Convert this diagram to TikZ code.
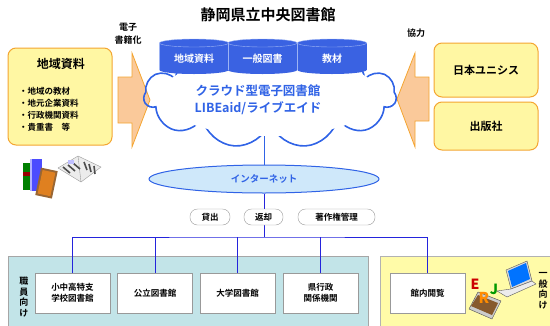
\documentclass[tikz,border=0pt]{standalone}
\usepackage{fontspec}
\setmainfont{Noto Sans CJK JP}[BoldFont={Noto Sans CJK JP Bold}]
\usetikzlibrary{shapes.symbols,shapes.geometric}

\definecolor{boxyellow}{HTML}{FFF7A3}
\definecolor{boxorange}{HTML}{F4A531}
\definecolor{arrowfill}{HTML}{FAC99A}
\definecolor{cloudblue}{HTML}{3063E6}
\definecolor{dbblue}{HTML}{3A62E2}
\definecolor{dbtop}{HTML}{9DB4F4}
\definecolor{netfill}{HTML}{CFE8FA}
\definecolor{linkblue}{HTML}{2424DC}
\definecolor{staffpanel}{HTML}{C2E4E8}
\definecolor{publicpanel}{HTML}{FFFBA8}

\tikzset{
  srcbox/.style={draw=boxorange,line width=1pt,fill=boxyellow,rounded corners=8pt},
  feedarrow/.style={draw=boxorange,line width=0.8pt,fill=arrowfill},
  orgbox/.style={draw=gray!80,fill=white,minimum width=75pt,minimum height=40pt,
    align=center,font=\bfseries\fontsize{8.5}{11}\selectfont},
  pill/.style={draw=gray!80,fill=white,rounded corners=7.5pt,minimum height=16pt,
    font=\bfseries\fontsize{8.5}{10}\selectfont},
  link/.style={draw=linkblue,line width=1pt},
  vtext/.style={align=center,font=\bfseries\fontsize{9}{10.5}\selectfont}
}

\begin{document}
\begin{tikzpicture}[x=1pt,y=-1pt,font=\bfseries]
\useasboundingbox (0,0) rectangle (550,325);
\clip (0,0) rectangle (550,325);

\node[font=\bfseries\fontsize{15}{15}\selectfont] (title) at (268,15) {静岡県立中央図書館};

% lower panels
\fill[staffpanel,draw=gray!70] (8,256) rectangle (368,335);
\fill[publicpanel,draw=gray!60] (380,256) rectangle (560,335);

% left source box
\node[srcbox,minimum width=104pt,minimum height=97pt] (local) at (60,96.5) {};
\node[font=\bfseries\fontsize{12}{12}\selectfont] (localhead) at (61,64) {地域資料};
\node[anchor=north west,align=left,inner sep=0pt,font=\bfseries\fontsize{8.5}{12}\selectfont]
  (locallist) at (19,87) {・地域の教材\\・地元企業資料\\・行政機関資料\\・貴重書　等};

% right partners
\node[srcbox,minimum width=104pt,minimum height=54pt,font=\bfseries\fontsize{11}{11}\selectfont]
  (unisys) at (486,70) {日本ユニシス};
\node[srcbox,minimum width=104pt,minimum height=48pt,font=\bfseries\fontsize{11}{11}\selectfont]
  (publisher) at (486,126) {出版社};

% arrows into the cloud
\draw[feedarrow] (118,77) -- (132,77) -- (132,53) -- (150,100) -- (132,147)
  -- (132,123) -- (118,123) -- cycle;
\draw[feedarrow] (429,77) -- (415,77) -- (415,53) -- (397,99) -- (415,147)
  -- (415,121) -- (429,121) -- cycle;
\node[align=center,font=\bfseries\fontsize{9}{13}\selectfont] (digitize) at (128,34) {電子\\書籍化};
\node[font=\bfseries\fontsize{9}{9}\selectfont] (coop) at (416,33) {協力};

% internet and the line up to the cloud
\node[ellipse,draw=cloudblue,line width=1pt,fill=netfill,minimum width=230pt,minimum height=28pt,
  text=cloudblue,font=\bfseries\fontsize{9.5}{9.5}\selectfont] (internet) at (264,179) {インターネット};
\node[cloud,cloud puffs=11,cloud ignores aspect,draw=cloudblue,line width=1.6pt,
  minimum width=252pt,minimum height=104pt] (cloud) at (270,96) {};
\draw[link,draw=cloudblue] (internet.north) -- (internet.north |- cloud.south);
\fill[white] (cloud.center) ellipse (110 and 40);

% database cylinders
\foreach \x/\name/\txt in {194/dbLocal/地域資料,262.5/dbBooks/一般図書,332/dbEdu/教材}{
  \fill[dbblue] (\x-34.5,43) rectangle (\x+34.5,70);
  \fill[dbblue] (\x,70) ellipse (34.5 and 4);
  \draw[dbtop,fill=dbblue] (\x,43) ellipse (34.5 and 4);
  \draw[dbtop] (\x-34.5,43) -- (\x-34.5,70);
  \node[text=white,font=\bfseries\fontsize{10}{10}\selectfont] (\name) at (\x,59) {\txt};
}
\node[text=cloudblue,align=center,font=\bfseries\fontsize{12.5}{17}\selectfont]
  (libeaid) at (258,100) {クラウド型電子図書館\\LIBEaid/ライブエイド};

% users
\coordinate (bus) at (264,237);
\node[orgbox] (school) at (72.5,293) {小中高特支\\学校図書館};
\node[orgbox] (public) at (155,293) {公立図書館};
\node[orgbox] (univ) at (237.5,293) {大学図書館};
\node[orgbox] (pref) at (320.5,293) {県行政\\関係機関};
\node[orgbox] (reading) at (427.5,293) {館内閲覧};

\draw[link] (internet.south) -- (bus);
\draw[link] (school.north) |- (bus) -| (reading.north);
\draw[link] (public.north) -- (public.north |- bus);
\draw[link] (univ.north) -- (univ.north |- bus);
\draw[link] (pref.north) -- (pref.north |- bus);

\node[pill,minimum width=40pt] (lend) at (210,217) {貸出};
\node[pill,minimum width=39pt] (back) at (263.5,217) {返却};
\node[pill,minimum width=77pt] (rights) at (336.5,217) {著作権管理};

\node[vtext] (staff) at (24,297) {職\\員\\向\\け};
\node[vtext] (general) at (543,291) {一\\般\\向\\け};

% books and newspaper
\fill[green!50!black] (23,163) rectangle (31,190);
\fill[red!60!black] (23,172) rectangle (31,176);
\fill[blue!70] (30,159) rectangle (42,191);
\fill[blue!30] (30,159) rectangle (32,191);
\fill[brown!80!black,rotate around={-12:(46,183)}] (38,169) rectangle (55,197);
\fill[brown!50!orange,rotate around={-12:(46,183)}] (40,171) rectangle (53,195);
\draw[gray!80,fill=gray!15] (58,168) -- (78,156) -- (101,167) -- (81,182) -- cycle;
\draw[gray!80] (81,182) -- (78,156);
\foreach \k in {0,1,2}{
  \draw[gray!60!black,line width=1.6pt] (63+5*\k,167-2*\k) -- (70+5*\k,173-2*\k);
  \draw[gray!60!black,line width=1.6pt] (84+5*\k,162+2*\k) -- (87+4*\k,170+2*\k);
}
\fill[blue!25] (68,160) rectangle (74,164);

% dictionary and laptop
\draw[gray!60!black,fill=gray!40] (469,309) -- (492,319) -- (501,301) -- (478,292) -- cycle;
\fill[brown!70!black] (471,306) -- (492,315) -- (498,303) -- (478,295) -- cycle;
\node[text=red!80!black,font=\bfseries\itshape\fontsize{14}{14}\selectfont] (letterE) at (475,284) {E};
\node[text=green!60!black,font=\bfseries\itshape\fontsize{14}{14}\selectfont] (letterJ) at (494,289) {J};
\node[text=orange!90!yellow,font=\bfseries\itshape\fontsize{15}{15}\selectfont] (letterR) at (484,298) {R};
\draw[gray!70!black,fill=gray!30] (506,270) -- (527,261) -- (532,281) -- (511,289) -- cycle;
\fill[blue!55!cyan] (508,271) -- (526,263) -- (530,279) -- (512,287) -- cycle;
\draw[gray!70!black,fill=gray!15] (497,291) -- (511,289) -- (532,281) -- (536,284) -- (507,297) -- cycle;
\end{tikzpicture}
\end{document}
